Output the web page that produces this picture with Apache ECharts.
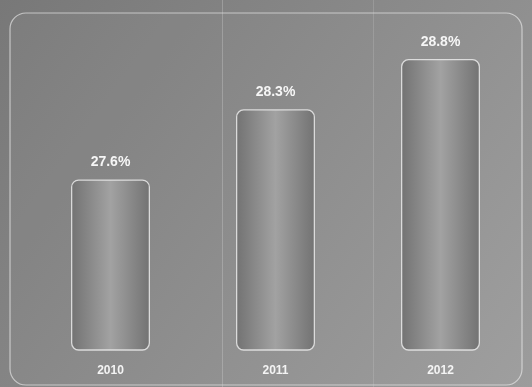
<!DOCTYPE html>
<html>
<head>
<meta charset="utf-8">
<script src="https://cdn.jsdelivr.net/npm/echarts@6/dist/echarts.min.js"></script>
<style>
  html, body { margin: 0; padding: 0; background: #888; }
  #chart { width: 532px; height: 387px; }
</style>
</head>
<body>
<div id="chart"></div>
<script>
const years = ["2010", "2011", "2012"];
const shares = [27.6, 28.3, 28.8];

const chart = echarts.init(document.getElementById("chart"));

chart.setOption({
  backgroundColor: {
    type: "linear", x: 0, y: 0, x2: 1, y2: 1,
    colorStops: [
      { offset: 0, color: "#787878" },
      { offset: 1, color: "#9c9c9c" },
    ],
  },
  animation: false,
  graphic: [
    {
      type: "rect",
      shape: { x: 10, y: 13, width: 512, height: 372, r: 16 },
      style: { fill: "rgba(255,255,255,0.03)", stroke: "rgba(235,235,235,0.65)", lineWidth: 1.2 },
      z: -1,
    },
    {
      type: "line",
      shape: { x1: 222.5, y1: 0, x2: 222.5, y2: 387 },
      style: { stroke: "rgba(220,220,220,0.3)", lineWidth: 1 },
      z: -1,
    },
    {
      type: "line",
      shape: { x1: 373.5, y1: 0, x2: 373.5, y2: 387 },
      style: { stroke: "rgba(220,220,220,0.2)", lineWidth: 1 },
      z: -1,
    },
  ],
  grid: { left: 28, right: 9, top: 39, bottom: 37 },
  xAxis: {
    type: "category",
    data: years,
    axisLine: { show: false },
    axisTick: { show: false },
    axisLabel: {
      color: "#f4f4f4",
      fontFamily: "Liberation Sans, Arial, sans-serif",
      fontWeight: "bold",
      fontSize: 12,
      margin: 15,
    },
  },
  yAxis: {
    type: "value",
    min: 25.9,
    max: 29.0,
    show: false,
    splitLine: { show: false },
  },
  series: [
    {
      type: "bar",
      data: shares,
      barWidth: 79,
      itemStyle: {
        borderRadius: 7,
        borderColor: "rgba(240,240,240,0.8)",
        borderWidth: 1.3,
        color: {
          type: "linear", x: 0, y: 0, x2: 1, y2: 0,
          colorStops: [
            { offset: 0, color: "#727272" },
            { offset: 0.5, color: "#a2a2a2" },
            { offset: 1, color: "#727272" },
          ],
        },
      },
      label: {
        show: true,
        position: "top",
        distance: 10,
        color: "#f6f6f6",
        fontFamily: "Liberation Sans, Arial, sans-serif",
        fontWeight: "bold",
        fontSize: 14,
        formatter: (p) => p.value.toFixed(1) + "%",
      },
    },
  ],
});
</script>
</body>
</html>
